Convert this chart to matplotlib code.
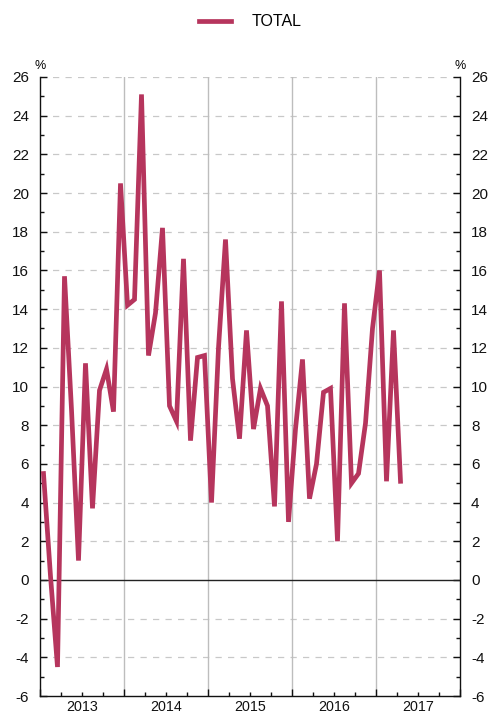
import matplotlib
matplotlib.use("Agg")
import matplotlib.pyplot as plt
from matplotlib.ticker import MultipleLocator, FixedLocator, NullFormatter
import numpy as np

plt.rcParams['font.family'] = ['Liberation Sans', 'DejaVu Sans']
plt.rcParams['axes.unicode_minus'] = False

# Monthly year-on-year change, Jan 2013 - Apr 2017 (%)
series_name = "TOTAL"
start_year = 2013
values = [
    5.5, 0.2, -4.5, 15.7, 8.8, 1.0, 11.2, 3.7, 9.8, 10.9, 8.7, 20.5,   # 2013
    14.2, 14.5, 25.1, 11.6, 13.8, 18.2, 9.0, 8.2, 16.6, 7.2, 11.5, 11.6,  # 2014
    4.0, 12.0, 17.6, 10.4, 7.3, 12.9, 7.8, 9.9, 9.0, 3.8, 14.4, 3.0,     # 2015
    7.8, 11.4, 4.2, 6.0, 9.7, 9.9, 2.0, 14.3, 5.0, 5.5, 8.1, 13.0,        # 2016
    16.0, 5.1, 12.9, 5.1,                                                 # 2017
]
year_labels = ["2013", "2014", "2015", "2016", "2017"]

line_color = "#B6355D"

fig = plt.figure(figsize=(4.89, 7.13), dpi=100)
ax = fig.add_axes([40 / 489, 1 - 696 / 713, 420 / 489, 619 / 713])

months = np.arange(len(values)) + 0.5
ax.plot(months, values, color=line_color, lw=3.4, solid_joinstyle='miter',
        label=series_name, zorder=4)

n_years = len(year_labels)
ax.set_xlim(0, 12 * n_years)
ax.set_ylim(-6, 26)

# horizontal dashed grid and zero line
for y in range(-6, 27, 2):
    if y in (0, -6):
        continue
    ax.axhline(y, color="#c8c8c8", lw=0.9, ls=(0, (5, 5)), zorder=1)
ax.axhline(0, color="#222222", lw=1.0, zorder=2)

# year separators
for k in range(1, n_years):
    ax.axvline(12 * k, color="#bdbdbd", lw=1.0, zorder=1)

# x axis: year boundaries as major ticks, quarters as minor, labels mid-year
ax.xaxis.set_major_locator(FixedLocator([12 * k for k in range(n_years + 1)]))
ax.xaxis.set_major_formatter(NullFormatter())
ax.xaxis.set_minor_locator(FixedLocator([3 * k for k in range(4 * n_years + 1) if k % 4]))
for k, lab in enumerate(year_labels):
    ax.text(12 * k + 6, -6.22, lab, ha='center', va='top', fontsize=10.3,
            color="#111111", transform=ax.transData)
ax.tick_params(axis='x', which='major', direction='in', length=5, width=1, colors="#111111")
ax.tick_params(axis='x', which='minor', direction='in', length=3, width=1, colors="#111111")

# y axis on both sides
ax.yaxis.set_major_locator(MultipleLocator(2))
ax.yaxis.set_minor_locator(MultipleLocator(1))
ax.tick_params(axis='y', which='both', direction='in', left=True, right=True,
               labelleft=True, labelright=True, labelsize=11, pad=8,
               colors="#111111", width=1)
ax.tick_params(axis='y', which='major', length=5)
ax.tick_params(axis='y', which='minor', length=3)

for side in ('left', 'right', 'bottom'):
    ax.spines[side].set_color("#111111")
    ax.spines[side].set_linewidth(1.0)
ax.spines['top'].set_visible(False)

ax.text(0, 1.008, "%", transform=ax.transAxes, ha='center', va='bottom', fontsize=9)
ax.text(1, 1.008, "%", transform=ax.transAxes, ha='center', va='bottom', fontsize=9)

fig.legend(loc='upper center', bbox_to_anchor=(0.512, 1.0), frameon=False,
           fontsize=11.5, handlelength=2.0, handletextpad=1.3)

fig.savefig("out.png", dpi=100)
